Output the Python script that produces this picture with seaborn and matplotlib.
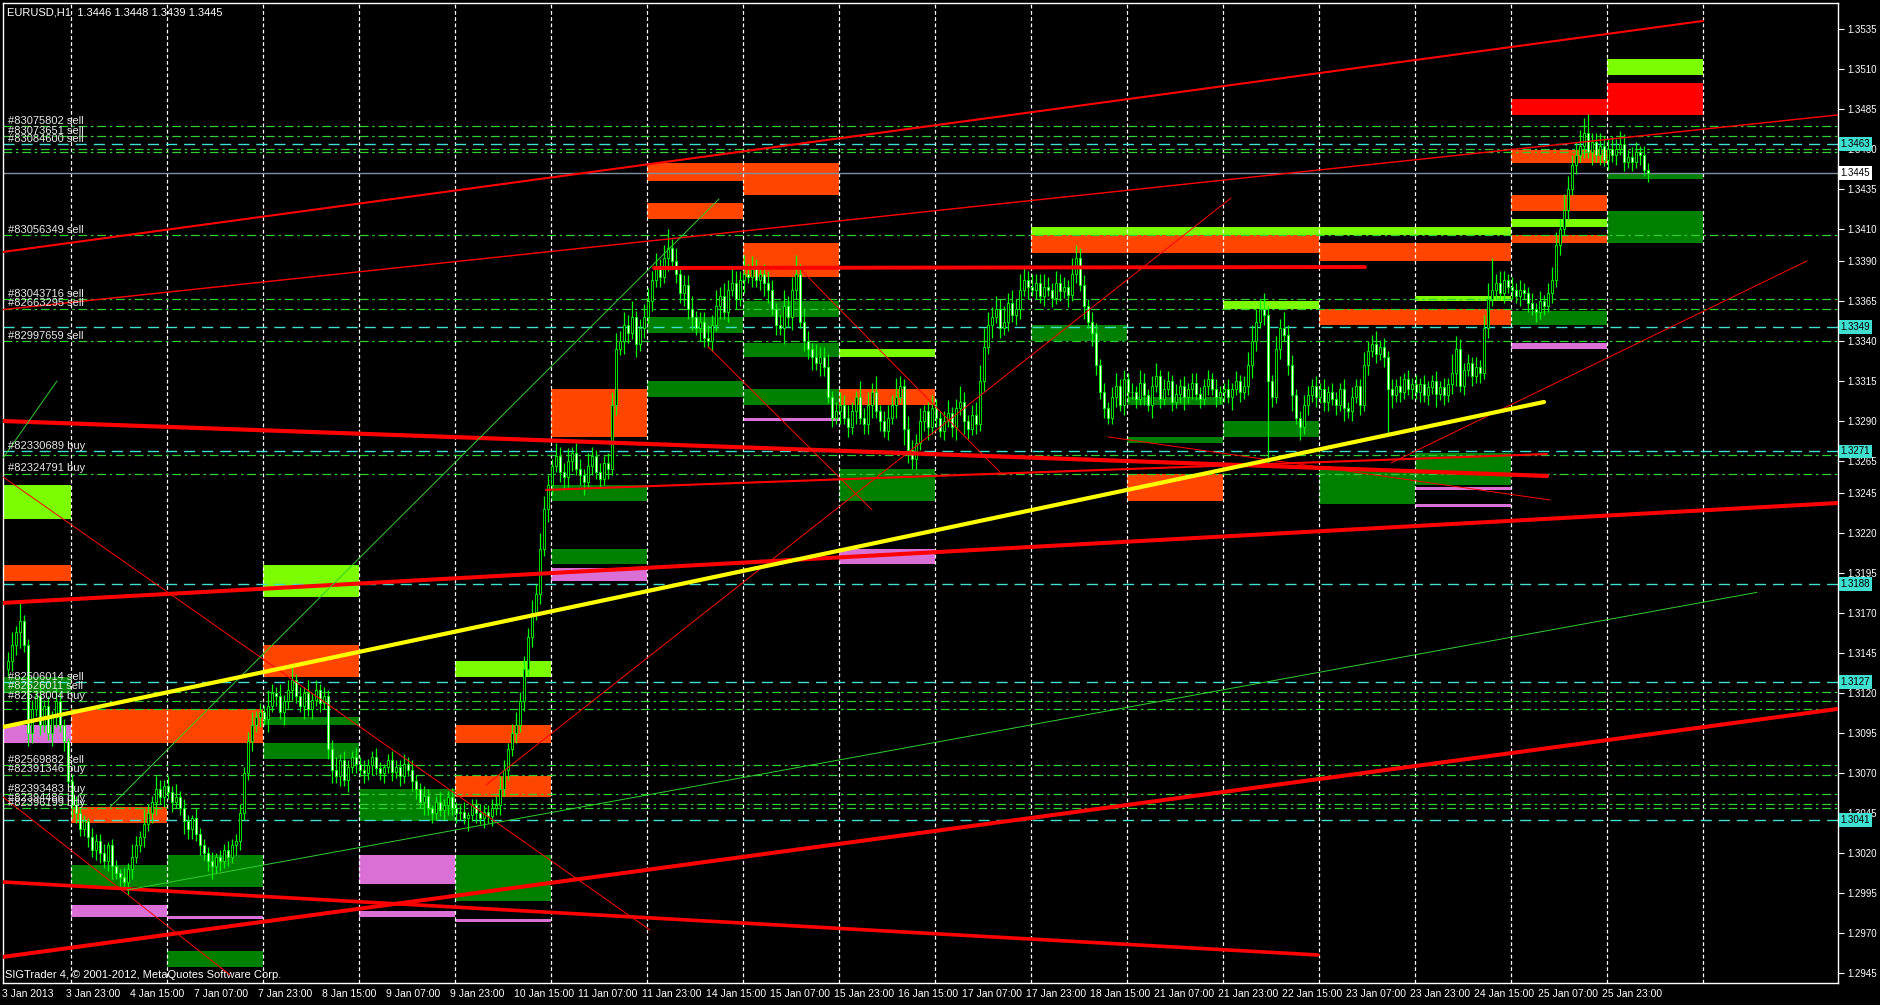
import numpy as np
import matplotlib
matplotlib.use("Agg")
import matplotlib.pyplot as plt
import seaborn as sns

# ---- price data: H1 closes in pips above 1.3000, one value per bar ----
closes = [
    140, 150, 158, 165, 150, 95, 110, 118, 100, 112, 95, 105, 115, 100,
    90, 65, 50, 45, 35, 40, 30, 22, 28, 20, 15, 25, 12, 8, 5, 2,
    10, 18, 25, 30, 38, 45, 52, 60, 55, 62, 58, 52, 55,
    48, 40, 35, 42, 32, 25, 20, 15, 12, 18, 15, 22, 18, 25, 28,
    45, 70, 90, 100, 105, 108, 104,
    112, 120, 118, 108, 115, 122, 128, 118, 112, 120, 110, 116, 122, 114, 118,
    85, 72, 68, 78, 66, 74, 80,
    76, 72, 70, 75, 80, 73, 70, 74, 78, 71, 74, 68, 76, 72,
    65, 60, 52, 56, 48, 45, 52, 47, 50, 55, 48, 45,
    46, 42, 44, 50, 45, 42, 46, 43, 48, 50,
    60, 72, 85, 95, 100, 115, 135, 155, 170, 182, 210, 235, 250,
    262, 268, 258, 255, 265, 270, 260, 256, 252, 262, 268, 258, 254, 264, 260,
    300, 335, 340, 350, 345, 355, 338, 348, 355,
    365, 378, 385, 380, 392, 398,
    390, 382, 370, 375, 360, 355, 348, 352, 342, 340,
    350, 362, 368, 358, 372, 376, 366, 378,
    382, 380, 385, 378, 382, 376, 372,
    360, 350, 348, 362, 355, 372, 382,
    352, 340, 335, 330, 326, 330, 324, 305, 292, 296,
    300, 292, 286, 296, 305, 292, 288, 300, 308, 296, 290, 284, 292, 300, 305,
    312, 285, 272, 266, 276,
    290, 296, 286, 298, 292, 284, 290,
    295, 286, 298, 302, 290, 285, 294, 288, 315, 336,
    350, 355, 360, 348, 352, 364, 356, 360, 372, 378, 374,
    372, 376, 368, 374, 372, 367, 376, 371, 374, 369, 382, 392,
    375, 362, 352, 345, 325, 308, 298, 292,
    305, 312, 300, 316, 308,
    308, 304, 314, 306, 300, 312, 318, 304, 310, 315, 302, 307, 312, 305, 310,
    314, 307, 304, 312, 316, 310, 305, 308,
    310, 305, 310, 315, 308, 312,
    325, 340, 352, 360, 356, 315, 305, 335, 348, 344,
    325, 306, 292, 286, 300, 306, 312, 305, 310, 302, 308,
    304, 300, 310, 298, 296, 305, 312, 300,
    325, 334, 338, 332, 336, 330, 310,
    306, 312, 308, 316, 310, 313,
    308, 313, 306, 311, 315, 307, 311, 306, 313,
    320, 335, 312, 322, 326, 318, 324, 320,
    348, 366, 372, 376, 370, 378, 374, 372, 368, 372, 370,
    364, 360, 358, 365, 362, 370, 378, 400, 410, 422, 435, 450, 456,
    462, 470, 458, 464, 456, 462, 453, 460, 456, 460, 463, 452,
    455, 452, 458, 456, 447, 445,
]
first_open = 135

# wick lengths per bar, in 2-pip units
wick_up = ("3426223242" "3243212322" "1322312213" "2432532432" "3242321322"
           "2312232232" "3423253242" "3523242323" "2342322323" "2232123223"
           "2322321232" "2322312232" "2334323434" "3435432433" "4233243232"
           "3453435234" "4353463423" "3423343534" "3543634323" "4323534634"
           "3243342343" "4325343523" "4363243342" "3432342353" "2345643435"
           "3435434334" "3243325433" "2332323423" "2324323423" "3232323322"
           "3232232323" "4543532435" "3322332323" "2322323224" "3342323232"
           "3232322323" "2643232324" "5434323232" "2323234435" "4345463343"
           "3434323323" "2")
wick_dn = ("2335243232" "2432324322" "3233234232" "4322323423" "2322433232"
           "3423232332" "2323242324" "2322423232" "3423242323" "2322323232"
           "2332423223" "3232242323" "2323232323" "2323243234" "3323423232"
           "3232432423" "2323242334" "3424323242" "3232423234" "4232534323"
           "3424323242" "3242334232" "3242543323" "4232323424" "3232324232"
           "3233242323" "2323242324" "2432322323" "3232324232" "2323423232"
           "3232324232" "3432323232" "3524232323" "3232423232" "3232324232"
           "2323232423" "2342323232" "3232323232" "3232323232" "3232424232"
           "3232323232" "3")
spike_high = {3: 1.3175, 165: 1.3404, 371: 1.3392, 394: 1.3479}
spike_low = {315: 1.3264, 345: 1.3282}

# ---- chart objects ----
OR, LG, GR, OC, RD = "#FF4500", "#7CFC00", "#008000", "#DA70D6", "#FF0000"

# zones: (from day, to day, low, high, colour); day -1 = left edge
zones = [
    (-1, 0, 1.3229, 1.3250, LG), (-1, 0, 1.3190, 1.3200, OR),
    (-1, 0, 1.3120, 1.3130, GR), (-1, 0, 1.3089, 1.3100, OC),
    (0, 2, 1.3089, 1.3110, OR), (0, 1, 1.3039, 1.3049, OR),
    (0, 1, 1.2999, 1.3013, GR), (0, 1, 1.2980, 1.2988, OC),
    (1, 2, 1.2999, 1.3019, GR), (1, 2, 1.2979, 1.2981, OC),
    (1, 2, 1.2949, 1.2959, GR),
    (2, 3, 1.3180, 1.3200, LG), (2, 3, 1.3130, 1.3150, OR),
    (2, 3, 1.3100, 1.3105, GR), (2, 3, 1.3079, 1.3089, GR),
    (3, 4, 1.3040, 1.3060, GR), (3, 4, 1.3001, 1.3019, OC),
    (3, 4, 1.2980, 1.2984, OC),
    (4, 5, 1.3130, 1.3140, LG), (4, 5, 1.3089, 1.3100, OR),
    (4, 5, 1.3055, 1.3068, OR), (4, 5, 1.2990, 1.3019, GR),
    (4, 5, 1.2977, 1.2979, OC),
    (5, 6, 1.3280, 1.3310, OR), (5, 6, 1.3240, 1.3250, GR),
    (5, 6, 1.3201, 1.3210, GR), (5, 6, 1.3190, 1.3198, OC),
    (6, 7, 1.3440, 1.3451, OR), (6, 7, 1.3416, 1.3426, OR),
    (6, 7, 1.3345, 1.3355, GR), (6, 7, 1.3305, 1.3315, GR),
    (7, 8, 1.3431, 1.3451, OR), (7, 8, 1.3380, 1.3401, OR),
    (7, 8, 1.3355, 1.3365, GR), (7, 8, 1.3330, 1.3339, GR),
    (7, 8, 1.3300, 1.3310, GR), (7, 8, 1.3290, 1.3292, OC),
    (8, 9, 1.3330, 1.3335, LG), (8, 9, 1.3300, 1.3310, OR),
    (8, 9, 1.3240, 1.3260, GR), (8, 9, 1.3201, 1.3210, OC),
    (10, 15, 1.3406, 1.3411, LG), (10, 13, 1.3395, 1.3406, OR),
    (13, 15, 1.3390, 1.3401, OR), (10, 11, 1.3340, 1.3350, GR),
    (11, 12, 1.3300, 1.3305, GR), (11, 12, 1.3276, 1.3280, GR),
    (11, 12, 1.3240, 1.3257, OR),
    (12, 13, 1.3360, 1.3365, LG), (12, 13, 1.3280, 1.3290, GR),
    (13, 15, 1.3350, 1.3360, OR), (14, 15, 1.3365, 1.3368, LG),
    (13, 14, 1.3238, 1.3260, GR), (14, 15, 1.3250, 1.3270, GR),
    (14, 15, 1.3247, 1.3249, OC), (14, 15, 1.3236, 1.3238, OC),
    (15, 16, 1.3481, 1.3491, RD), (15, 16, 1.3451, 1.3459, OR),
    (15, 16, 1.3421, 1.3431, OR), (15, 16, 1.3411, 1.3416, LG),
    (15, 16, 1.3401, 1.3406, OR), (15, 16, 1.3350, 1.3359, GR),
    (15, 16, 1.3335, 1.3339, OC),
    (16, 17, 1.3506, 1.3516, LG), (16, 17, 1.3481, 1.3501, RD),
    (16, 17, 1.3441, 1.3445, GR), (16, 17, 1.3401, 1.3421, GR),
]

# trend lines: (bar0, price0, bar1, price1, colour, width)
trend_lines = [
    (-1.25, 1.33956, 423.75, 1.35399, RD, 1.5),
    (-1.25, 1.33596, 457.5, 1.34812, RD, 1.0),
    (-1.25, 1.32900, 384.75, 1.32557, RD, 3.0),
    (-1.25, 1.31764, 457.5, 1.32388, RD, 2.9),
    (-1.25, 1.29553, 457.5, 1.31102, RD, 2.9),
    (-1.25, 1.30021, 327.5, 1.29565, RD, 2.6),
    (161.5, 1.33856, 339.25, 1.33862, RD, 2.8),
    (134.5, 1.32470, 384.75, 1.32694, RD, 1.5),
    (-1.25, 1.32551, 160.5, 1.29721, RD, 0.7),
    (-1.25, 1.30552, 55.5, 1.29440, RD, 0.7),
    (119.5, 1.30627, 305.75, 1.34293, RD, 0.7),
    (198.25, 1.33844, 248.25, 1.32574, RD, 0.7),
    (175.0, 1.33365, 216.0, 1.32345, RD, 0.7),
    (345.75, 1.32638, 449.75, 1.33900, RD, 0.7),
    (275.0, 1.32801, 385.5, 1.32407, RD, 0.7),
    (-1.25, 1.32669, 12.25, 1.33150, "#32CD32", 0.7),
    (25.5, 1.30489, 177.75, 1.34287, "#32CD32", 0.7),
    (29.75, 1.29971, 437.25, 1.31830, "#32CD32", 0.7),
    (-1.25, 1.30989, 384.0, 1.33019, "#FFFF00", 3.0),
]

marked_levels = [1.3463, 1.3349, 1.3271, 1.3188, 1.3127, 1.3041]
order_levels = [1.3474, 1.3468, 1.3460, 1.3458, 1.3406, 1.3366, 1.3360, 1.3340,
                1.3269, 1.3257, 1.3121, 1.3115, 1.3110, 1.3075, 1.3069, 1.3057,
                1.3051, 1.3048]
bid = 1.3445

order_labels = ["#83075802 sell", "#83073651 sell", "#83084600 sell",
                "#83056349 sell", "#83043716 sell", "#82663295 sell",
                "#82997659 sell", "#82330689 buy", "#82324791 buy",
                "#82506014 sell", "#82526011 sell", "#82538004 buy",
                "#82569882 sell", "#82391346 buy", "#82393483 buy",
                "#82394486 buy", "#82396199 buy"]
order_label_prices = [1.3474, 1.3468, 1.3463, 1.3406, 1.3366, 1.3360, 1.3340,
                      1.3271, 1.3257, 1.3127, 1.3121, 1.3115, 1.3075, 1.3069,
                      1.3057, 1.3051, 1.3048]

price_ticks = [1.3535, 1.3510, 1.3485, 1.3460, 1.3435, 1.3410, 1.3390, 1.3365,
               1.3340, 1.3315, 1.3290, 1.3265, 1.3245, 1.3220, 1.3195, 1.3170,
               1.3145, 1.3120, 1.3095, 1.3070, 1.3045, 1.3020, 1.2995, 1.2970,
               1.2945]
time_labels = ["3 Jan 2013", "3 Jan 23:00", "4 Jan 15:00", "7 Jan 07:00",
               "7 Jan 23:00", "8 Jan 15:00", "9 Jan 07:00", "9 Jan 23:00",
               "10 Jan 15:00", "11 Jan 07:00", "11 Jan 23:00", "14 Jan 15:00",
               "15 Jan 07:00", "15 Jan 23:00", "16 Jan 15:00", "17 Jan 07:00",
               "17 Jan 23:00", "18 Jan 15:00", "21 Jan 07:00", "21 Jan 23:00",
               "22 Jan 15:00", "23 Jan 07:00", "23 Jan 23:00", "24 Jan 15:00",
               "25 Jan 07:00", "25 Jan 23:00"]

# ---- build OHLC ----
n = len(closes)
bars = np.arange(n)
c = 1.3 + np.array(closes) / 10000
o = np.r_[1.3 + first_open / 10000, c[:-1]]
up = np.array([int(ch) for ch in wick_up[:n]])
dn = np.array([int(ch) for ch in wick_dn[:n]])
hi = np.maximum(o, c) + up * 0.0002
lo = np.minimum(o, c) - dn * 0.0002
for k, v in spike_high.items():
    hi[k] = max(hi[k], v)
for k, v in spike_low.items():
    lo[k] = min(lo[k], v)

# ---- figure ----
sns.set_theme(style="dark")
plt.rcParams["font.family"] = ["Liberation Sans", "DejaVu Sans"]
narrow = ["Liberation Sans Narrow", "Liberation Sans", "DejaVu Sans"]

fig = plt.figure(figsize=(18.8, 10.05), dpi=100, facecolor="black")
ax = fig.add_axes([3 / 1880, 22 / 1005, 1835 / 1880, 980 / 1005])
ax.set_facecolor("black")
ax.set_xlim(-1.25, 457.5)
ax.set_ylim(1.29390, 1.35511)

day_lines = [15.75 + 24 * k for k in range(18)]
left_edge = -1.25

for g0, g1, z_lo, z_hi, col in zones:
    x0 = left_edge if g0 < 0 else day_lines[g0]
    x1 = day_lines[g1]
    ax.fill_between([x0, x1], z_lo, z_hi, color=col, lw=0, zorder=1)

for v in day_lines:
    ax.axvline(v, color="white", lw=0.9, ls=(0, (3, 2)), zorder=1.5)

for lv in order_levels:
    ax.axhline(lv, color="#32CD32", lw=0.9, ls=(0, (7, 3, 2, 3)), zorder=2)
for lv in marked_levels:
    ax.axhline(lv, color="#40E0D0", lw=1.0, ls=(0, (8, 5)), zorder=2)
ax.axhline(bid, color="#8090A0", lw=1.0, zorder=2)

# candles
ax.vlines(bars, lo, hi, color="#00FF00", lw=0.9, zorder=3)
bull = c >= o
h_bull = np.maximum((c - o)[bull], 0.00004)
h_bear = np.maximum((o - c)[~bull], 0.00004)
ax.bar(bars[bull], h_bull, bottom=o[bull], width=0.7, color="black",
       edgecolor="#00FF00", linewidth=0.6, zorder=3.2)
ax.bar(bars[~bull], h_bear, bottom=c[~bull], width=0.7, color="white",
       edgecolor="#00FF00", linewidth=0.6, zorder=3.2)

for b0, p0, b1, p1, col, lw in trend_lines:
    sns.lineplot(x=[b0, b1], y=[p0, p1], color=col, linewidth=lw, ax=ax,
                 zorder=5 if col == "#FFFF00" else 4)

for txt, pr in zip(order_labels, order_label_prices):
    ax.text(0, pr + 0.00003, txt, color="#E8E8E8", fontsize=8, family=narrow,
            ha="left", va="bottom", zorder=7)

ax.set_xlabel("")
ax.set_ylabel("")

# axes frame and ticks
for s in ax.spines.values():
    s.set_color("white")
    s.set_linewidth(1)
ax.yaxis.tick_right()
ax.set_yticks(price_ticks)
ax.set_yticklabels([f"{v:.4f}" for v in price_ticks])
ax.tick_params(axis="y", colors="white", labelsize=7, length=4, width=0.8,
               pad=3, direction="out")
label_bars = [16 * k for k in range(len(time_labels))]
ax.set_xticks(label_bars)
ax.set_xticklabels([])
ax.tick_params(axis="x", colors="white", length=4, width=0.8, direction="out")
ax.grid(False)

for b, t in zip(label_bars, time_labels):
    ax.text(b - 1.5, -0.006, t, transform=ax.get_xaxis_transform(),
            color="white", fontsize=7.5, ha="left", va="top", clip_on=False)

for lv in marked_levels:
    ax.text(1.0015, lv, f"{lv:.4f}", transform=ax.get_yaxis_transform(),
            color="black", fontsize=7, ha="left", va="center", clip_on=False,
            zorder=8, bbox=dict(boxstyle="square,pad=0.2", fc="#40E0D0", ec="none"))
ax.text(1.0015, bid, f"{bid:.4f}", transform=ax.get_yaxis_transform(),
        color="black", fontsize=7, ha="left", va="center", clip_on=False,
        zorder=8, bbox=dict(boxstyle="square,pad=0.2", fc="white", ec="none"))

ax.text(0.0022, 0.995, "EURUSD,H1  1.3446 1.3448 1.3439 1.3445",
        transform=ax.transAxes, color="white", fontsize=8, ha="left", va="top")
ax.text(0.0012, 0.003, "SIGTrader 4, \u00a9 2001-2012, MetaQuotes Software Corp.",
        transform=ax.transAxes, color="white", fontsize=8, ha="left", va="bottom")

fig.savefig("out.png", dpi=100, facecolor="black")
plt.close(fig)
